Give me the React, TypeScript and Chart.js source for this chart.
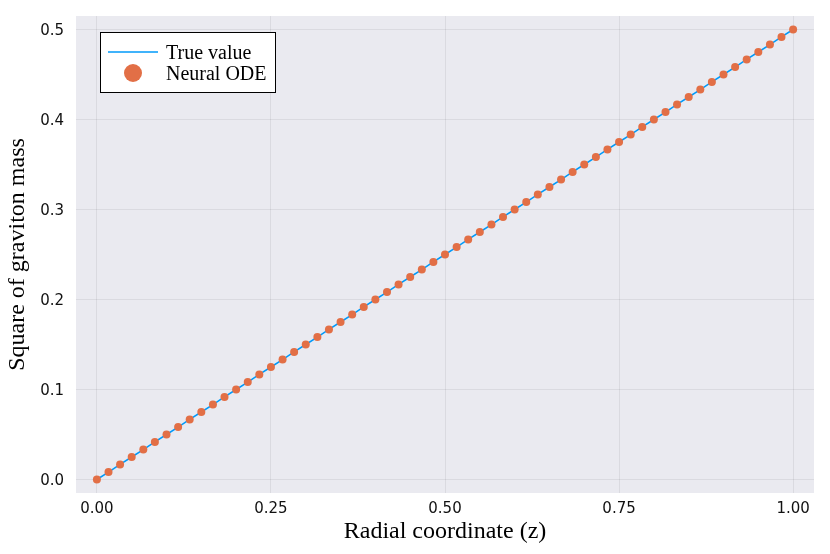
import { useEffect, useRef } from 'react';
import { Chart, registerables } from 'chart.js';

Chart.register(...registerables);

// radial coordinate z (61 sample points)
const radialZ = [
  0, 0.0167, 0.0333, 0.05, 0.0667, 0.0833, 0.1, 0.1167, 0.1333, 0.15,
  0.1667, 0.1833, 0.2, 0.2167, 0.2333, 0.25, 0.2667, 0.2833, 0.3, 0.3167,
  0.3333, 0.35, 0.3667, 0.3833, 0.4, 0.4167, 0.4333, 0.45, 0.4667, 0.4833,
  0.5, 0.5167, 0.5333, 0.55, 0.5667, 0.5833, 0.6, 0.6167, 0.6333, 0.65,
  0.6667, 0.6833, 0.7, 0.7167, 0.7333, 0.75, 0.7667, 0.7833, 0.8, 0.8167,
  0.8333, 0.85, 0.8667, 0.8833, 0.9, 0.9167, 0.9333, 0.95, 0.9667, 0.9833,
  1,
];

const trueMass = [
  0, 0.0083, 0.0167, 0.025, 0.0333, 0.0417, 0.05, 0.0583, 0.0667, 0.075,
  0.0833, 0.0917, 0.1, 0.1083, 0.1167, 0.125, 0.1333, 0.1417, 0.15, 0.1583,
  0.1667, 0.175, 0.1833, 0.1917, 0.2, 0.2083, 0.2167, 0.225, 0.2333, 0.2417,
  0.25, 0.2583, 0.2667, 0.275, 0.2833, 0.2917, 0.3, 0.3083, 0.3167, 0.325,
  0.3333, 0.3417, 0.35, 0.3583, 0.3667, 0.375, 0.3833, 0.3917, 0.4, 0.4083,
  0.4167, 0.425, 0.4333, 0.4417, 0.45, 0.4583, 0.4667, 0.475, 0.4833, 0.4917,
  0.5,
];

const neuralMass = [
  0, 0.0083, 0.0167, 0.025, 0.0333, 0.0417, 0.05, 0.0583, 0.0667, 0.075,
  0.0833, 0.0917, 0.1, 0.1083, 0.1167, 0.125, 0.1333, 0.1417, 0.15, 0.1583,
  0.1667, 0.175, 0.1833, 0.1917, 0.2, 0.2083, 0.2167, 0.225, 0.2333, 0.2417,
  0.25, 0.2583, 0.2667, 0.275, 0.2833, 0.2917, 0.3, 0.3083, 0.3167, 0.325,
  0.3333, 0.3417, 0.35, 0.3583, 0.3667, 0.375, 0.3833, 0.3917, 0.4, 0.4083,
  0.4167, 0.425, 0.4333, 0.4417, 0.45, 0.4583, 0.4667, 0.475, 0.4833, 0.4917,
  0.5,
];

const xTicks = [0, 0.25, 0.5, 0.75, 1];
const yTicks = [0, 0.1, 0.2, 0.3, 0.4, 0.5];

const LINE_COLOR = '#009AFA';
const POINT_COLOR = '#E26F46';
const SERIF = '"Liberation Serif", "DejaVu Serif", serif';
const SANS = '"DejaVu Sans", sans-serif';

// grey plot background
const plotBackground = {
  id: 'plotBackground',
  beforeDraw(chart: any) {
    const { ctx, chartArea } = chart;
    ctx.save();
    ctx.fillStyle = '#EAEAF0';
    ctx.fillRect(chartArea.left, chartArea.top, chartArea.right - chartArea.left, chartArea.bottom - chartArea.top);
    ctx.restore();
  },
};

// boxed legend inside the plot, top-left
const boxedLegend = {
  id: 'boxedLegend',
  afterDraw(chart: any) {
    const { ctx, chartArea } = chart;
    const x = chartArea.left + 24;
    const y = chartArea.top + 16;
    const w = 176;
    const h = 61;
    ctx.save();
    ctx.fillStyle = '#ffffff';
    ctx.fillRect(x, y, w, h);
    ctx.strokeStyle = '#000000';
    ctx.lineWidth = 1;
    ctx.strokeRect(x + 0.5, y + 0.5, w - 1, h - 1);

    ctx.strokeStyle = LINE_COLOR;
    ctx.lineWidth = 1.5;
    ctx.beginPath();
    ctx.moveTo(x + 8, y + 20);
    ctx.lineTo(x + 58, y + 20);
    ctx.stroke();

    ctx.fillStyle = POINT_COLOR;
    ctx.beginPath();
    ctx.arc(x + 33, y + 41, 9, 0, Math.PI * 2);
    ctx.fill();

    ctx.fillStyle = '#000000';
    ctx.font = `20px ${SERIF}`;
    ctx.textBaseline = 'middle';
    ctx.textAlign = 'left';
    ctx.fillText('True value', x + 66, y + 22);
    ctx.fillText('Neural ODE', x + 66, y + 43);
    ctx.restore();
  },
};

// drop the label overflow padding so the layout padding alone sets the plot box
const noLabelPadding = (scale: any) => {
  scale.paddingTop = 0;
  scale.paddingBottom = 0;
  scale.paddingLeft = 0;
  scale.paddingRight = 0;
};

export default function App() {
  const canvasRef = useRef<HTMLCanvasElement>(null);
  const chartInstance = useRef<Chart | null>(null);

  useEffect(() => {
    if (!canvasRef.current) return;
    if (chartInstance.current) {
      chartInstance.current.destroy();
    }

    chartInstance.current = new Chart(canvasRef.current, {
      type: 'scatter',
      data: {
        datasets: [
          {
            type: 'scatter',
            label: 'Neural ODE',
            data: radialZ.map((z, i) => ({ x: z, y: neuralMass[i] })),
            backgroundColor: POINT_COLOR,
            pointRadius: 4,
            pointBorderWidth: 0,
            order: 0,
          },
          {
            type: 'line',
            label: 'True value',
            data: radialZ.map((z, i) => ({ x: z, y: trueMass[i] })),
            borderColor: LINE_COLOR,
            borderWidth: 1.5,
            pointRadius: 0,
            showLine: true,
            fill: false,
            order: 1,
          },
        ],
      },
      options: {
        animation: false,
        responsive: true,
        maintainAspectRatio: false,
        layout: { padding: { top: 16, right: 16, left: 0, bottom: 0 } },
        plugins: {
          legend: { display: false },
          tooltip: { enabled: false },
        },
        scales: {
          x: {
            type: 'linear',
            min: -0.03,
            max: 1.03,
            afterBuildTicks: (scale: any) => {
              scale.ticks = xTicks.map((v) => ({ value: v }));
            },
            afterFit: (scale: any) => {
              scale.height = 61;
              noLabelPadding(scale);
            },
            grid: { color: 'rgba(0,0,0,0.065)', lineWidth: 1, drawTicks: false },
            border: { display: false },
            ticks: {
              padding: 7,
              color: '#111',
              font: { family: SANS, size: 15 },
              callback: (v: any) => Number(v).toFixed(2),
            },
            title: {
              display: true,
              text: 'Radial coordinate (z)',
              color: '#000',
              font: { family: SERIF, size: 24 },
              padding: { top: 0, bottom: 8 },
            },
          },
          y: {
            type: 'linear',
            min: -0.015,
            max: 0.515,
            afterBuildTicks: (scale: any) => {
              scale.ticks = yTicks.map((v) => ({ value: v }));
            },
            afterFit: (scale: any) => {
              scale.width = 76;
              noLabelPadding(scale);
            },
            grid: { color: 'rgba(0,0,0,0.065)', lineWidth: 1, drawTicks: false },
            border: { display: false },
            ticks: {
              padding: 12,
              labelOffset: 2,
              color: '#111',
              font: { family: SANS, size: 15 },
              callback: (v: any) => Number(v).toFixed(1),
            },
            title: {
              display: true,
              text: 'Square of graviton mass',
              color: '#000',
              font: { family: SERIF, size: 24 },
              padding: { top: 3, bottom: 0 },
            },
          },
        },
      },
      plugins: [plotBackground, boxedLegend],
    });

    return () => {
      if (chartInstance.current) {
        chartInstance.current.destroy();
        chartInstance.current = null;
      }
    };
  }, []);

  return (
    <div style={{ position: 'fixed', left: 0, top: 0, width: 830, height: 554, background: '#fff' }}>
      <canvas ref={canvasRef} />
    </div>
  );
}
